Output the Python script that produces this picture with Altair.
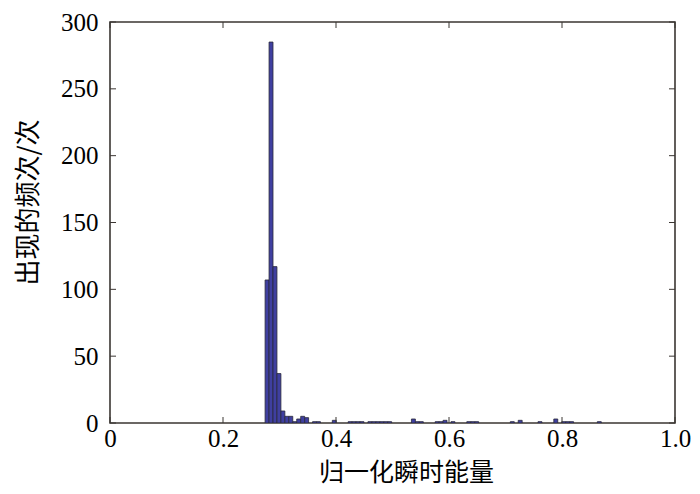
import altair as alt
import pandas as pd

# Histogram data (bin start, bin width, counts per bin)
bin_origin = 0.2745
bin_width = 0.007
counts = [107, 285, 117, 37, 9, 5, 5, 1, 3, 5, 4, 0, 1, 1, 0, 0, 0, 2, 0, 0,
          0, 1, 1, 1, 1, 0, 1, 1, 1, 1, 1, 1, 0, 0, 0, 0, 0, 3, 1, 1,
          0, 0, 0, 1, 1, 2, 0, 1, 0, 0, 0, 1, 1, 1, 0, 0, 0, 0, 0, 0,
          0, 0, 1, 0, 2, 0, 0, 0, 0, 1, 0, 0, 0, 3, 0, 1, 1, 1, 0, 0,
          0, 0, 0, 0, 1]

x_ticks = [0, 0.2, 0.4, 0.6, 0.8, 1.0]
y_ticks = [0, 50, 100, 150, 200, 250, 300]

x_title = "归一化瞬时能量"
y_title = "出现的频次/次"

rows = []
for i, c in enumerate(counts):
    if c > 0:
        lo = bin_origin + i * bin_width
        rows.append({"lo": lo, "hi": lo + bin_width, "count": c})
df = pd.DataFrame(rows)

LEFT, TOP, RIGHT, BOTTOM = 102, 14, 17, 63
W, H = 565, 401
serif = "Liberation Serif"
cjk = "Noto Sans CJK SC"
frame = "#3b3632"

xscale = alt.Scale(domain=[0, 1], nice=False, zero=False)
yscale = alt.Scale(domain=[0, 300], nice=False)

bars = alt.Chart(df).mark_bar(
    fill="#3f3fa0", stroke="#2a2a3a", strokeWidth=0.8, clip=True
).encode(
    x=alt.X("lo:Q", scale=xscale, axis=alt.Axis(
        values=x_ticks, title=x_title, ticks=False, domain=False, grid=False,
        labelExpr="datum.value == 0 ? '0' : format(datum.value, '.1f')",
        labelFont=serif, labelFontSize=25, labelColor="black", labelPadding=3,
        labelFlush=False, labelOverlap=False,
        titleFont=cjk, titleFontSize=25, titleFontWeight="normal", titleColor="black",
        titleX=296, titleY=49, titleBaseline="middle", titleAlign="center")),
    x2="hi:Q",
    y=alt.Y("count:Q", scale=yscale, axis=alt.Axis(
        values=y_ticks, title=y_title, ticks=False, domain=False, grid=False,
        labelFont=serif, labelFontSize=25, labelColor="black", labelPadding=12,
        labelOverlap=False, labelFlush=False,
        titleFont=cjk, titleFontSize=26, titleFontWeight="normal", titleColor="black",
        titleX=-82, titleY=180, titleBaseline="middle", titleAlign="center", titleAngle=270)),
    y2=alt.datum(0),
)

xt = pd.DataFrame({"v": x_ticks})
yt = pd.DataFrame({"v": y_ticks})
tick_len = 6

bottom_ticks = alt.Chart(xt).mark_rule(color=frame, strokeWidth=1).encode(
    x=alt.X("v:Q", scale=xscale), y=alt.value(H), y2=alt.value(H - tick_len))
top_ticks = alt.Chart(xt).mark_rule(color=frame, strokeWidth=1).encode(
    x=alt.X("v:Q", scale=xscale), y=alt.value(0), y2=alt.value(tick_len))
left_ticks = alt.Chart(yt).mark_rule(color=frame, strokeWidth=1).encode(
    y=alt.Y("v:Q", scale=yscale), x=alt.value(0), x2=alt.value(tick_len))
right_ticks = alt.Chart(yt).mark_rule(color=frame, strokeWidth=1).encode(
    y=alt.Y("v:Q", scale=yscale), x=alt.value(W), x2=alt.value(W - tick_len))

chart = alt.layer(bars, bottom_ticks, top_ticks, left_ticks, right_ticks).properties(
    width=W, height=H,
    autosize=alt.AutoSizeParams(type="none"),
    padding={"left": LEFT, "top": TOP, "right": RIGHT, "bottom": BOTTOM},
    background="white",
).configure_view(stroke=frame, strokeWidth=1.6)

chart.save("out.html", embed_options={"renderer": "svg", "actions": False})
